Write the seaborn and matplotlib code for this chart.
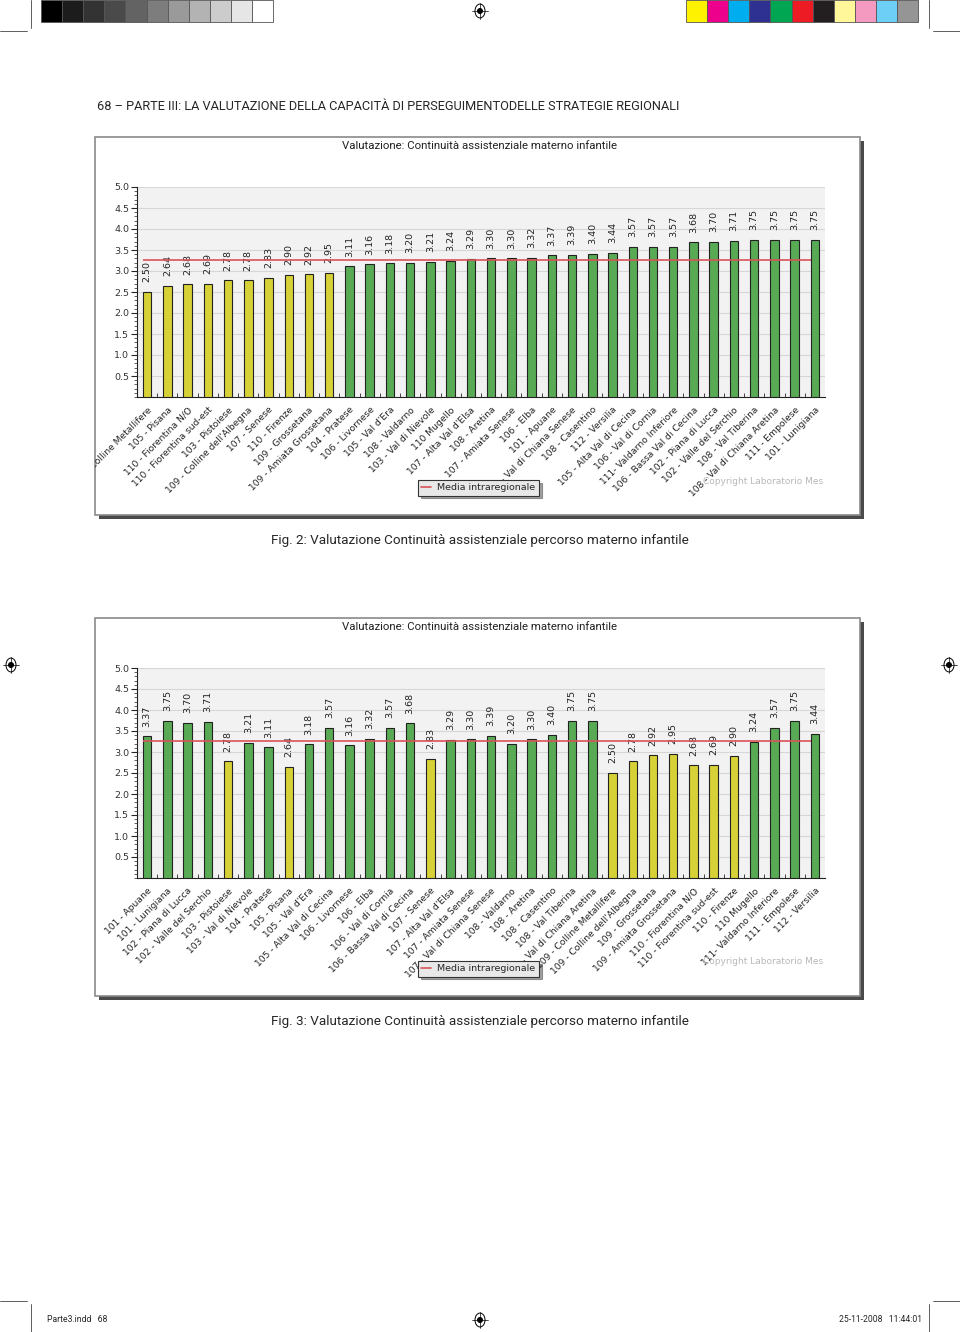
import matplotlib
matplotlib.use("Agg")
import matplotlib.pyplot as plt
import matplotlib.patches as mpatches
from matplotlib.lines import Line2D
from matplotlib.ticker import MultipleLocator
import pandas as pd
import seaborn as sns

sns.set_style("white")
plt.rcParams['font.family'] = ['DejaVu Sans']
NARROW = ['Roboto', 'DejaVu Sans']

# Fig. 2 - aree ordinate per punteggio
aree_fig2 = [
    "109 - Colline Metallifere", "105 - Pisana", "110 - Fiorentina N/O",
    "110 - Fiorentina sud-est", "103 - Pistoiese", "109 - Colline dell'Albegna",
    "107 - Senese", "110 - Firenze", "109 - Grossetana", "109 - Amiata Grossetana",
    "104 - Pratese", "106 - Livornese", "105 - Val d'Era", "108 - Valdarno",
    "103 - Val di Nievole", "110 Mugello", "107 - Alta Val d'Elsa", "108 - Aretina",
    "107 - Amiata Senese", "106 - Elba", "101 - Apuane", "107 - Val di Chiana Senese",
    "108 - Casentino", "112 - Versilia", "105 - Alta Val di Cecina",
    "106 - Val di Cornia", "111- Valdarno Inferiore", "106 - Bassa Val di Cecina",
    "102 - Piana di Lucca", "102 - Valle del Serchio", "108 - Val Tiberina",
    "108 - Val di Chiana Aretina", "111 - Empolese", "101 - Lunigiana",
]
valori_fig2 = [
    2.50, 2.64, 2.68, 2.69, 2.78, 2.78, 2.83, 2.90, 2.92, 2.95,
    3.11, 3.16, 3.18, 3.20, 3.21, 3.24, 3.29, 3.30, 3.30, 3.32,
    3.37, 3.39, 3.40, 3.44, 3.57, 3.57, 3.57, 3.68, 3.70, 3.71,
    3.75, 3.75, 3.75, 3.75,
]

# Fig. 3 - aree in ordine di codice
aree_fig3 = [
    "101 - Apuane", "101 - Lunigiana", "102 - Piana di Lucca",
    "102 - Valle del Serchio", "103 - Pistoiese", "103 - Val di Nievole",
    "104 - Pratese", "105 - Pisana", "105 - Val d'Era", "105 - Alta Val di Cecina",
    "106 - Livornese", "106 - Elba", "106 - Val di Cornia",
    "106 - Bassa Val di Cecina", "107 - Senese", "107 - Alta Val d'Elsa",
    "107 - Amiata Senese", "107 - Val di Chiana Senese", "108 - Valdarno",
    "108 - Aretina", "108 - Casentino", "108 - Val Tiberina",
    "108 - Val di Chiana Aretina", "109 - Colline Metallifere",
    "109 - Colline dell'Albegna", "109 - Grossetana", "109 - Amiata Grossetana",
    "110 - Fiorentina N/O", "110 - Fiorentina sud-est", "110 - Firenze",
    "110 Mugello", "111- Valdarno Inferiore", "111 - Empolese", "112 - Versilia",
]
valori_fig3 = [
    3.37, 3.75, 3.70, 3.71, 2.78, 3.21, 3.11, 2.64, 3.18, 3.57,
    3.16, 3.32, 3.57, 3.68, 2.83, 3.29, 3.30, 3.39, 3.20, 3.30,
    3.40, 3.75, 3.75, 2.50, 2.78, 2.92, 2.95, 2.68, 2.69, 2.90,
    3.24, 3.57, 3.75, 3.44,
]

media_intraregionale = 3.26
titolo_grafico = "Valutazione: Continuità assistenziale materno infantile"
didascalie = [
    "Fig. 2: Valutazione Continuità assistenziale percorso materno infantile",
    "Fig. 3: Valutazione Continuità assistenziale percorso materno infantile",
]
intestazione = "68 – PARTE III: LA VALUTAZIONE DELLA CAPACITÀ DI PERSEGUIMENTODELLE STRATEGIE REGIONALI"

W, H = 960, 1332
fig = plt.figure(figsize=(W / 100, H / 100), dpi=100)
fig.patch.set_facecolor("white")


def fx(x):
    return x / W


def fy(y):
    return 1 - y / H


def rect(x0, y0, x1, y1, **kw):
    p = mpatches.Rectangle((fx(x0), fy(y1)), fx(x1) - fx(x0), fy(y0) - fy(y1),
                           transform=fig.transFigure, **kw)
    fig.add_artist(p)
    return p


def line(xs, ys, **kw):
    fig.add_artist(Line2D([fx(x) for x in xs], [fy(y) for y in ys],
                          transform=fig.transFigure, **kw))


def registro(x, y):
    fig.add_artist(mpatches.Circle((fx(x), fy(y)), 5 / W, transform=fig.transFigure,
                                   facecolor="white", edgecolor="black", lw=0.7))
    fig.add_artist(mpatches.Ellipse((fx(x), fy(y)), 6 / W, 6 / H, transform=fig.transFigure,
                                    facecolor="black", edgecolor="none"))
    line([x - 8, x + 8], [y, y], color="black", lw=0.5)
    line([x, x], [y - 8, y + 8], color="black", lw=0.5)


# color bars at the top of the page
grigi = ["#000000", "#1c1c1c", "#333333", "#4a4a4a", "#636363", "#7d7d7d",
         "#9a9a9a", "#b3b3b3", "#cccccc", "#e6e6e6", "#ffffff"]
colori = ["#fff200", "#ec008c", "#00aeef", "#2e3192", "#00a651", "#ed1c24",
          "#231f20", "#fff799", "#f49ac1", "#6dcff6", "#959595"]
for i, c in enumerate(grigi):
    rect(41 + i * 21.1, 0, 41 + (i + 1) * 21.1, 22, facecolor=c, edgecolor="#555555", lw=0.6)
for i, c in enumerate(colori):
    rect(686 + i * 21.1, 0, 686 + (i + 1) * 21.1, 22, facecolor=c, edgecolor="#555555", lw=0.6)

# crop marks
for x_v, x_h in [(31, (0, 27)), (929, (933, 960))]:
    line([x_v, x_v], [0, 28], color="#444444", lw=0.6)
    line(list(x_h), [31, 31], color="#444444", lw=0.6)
    line([x_v, x_v], [1304, 1332], color="#444444", lw=0.6)
    line(list(x_h), [1301, 1301], color="#444444", lw=0.6)

for (x, y) in [(480, 11), (11, 665), (949, 665), (480, 1320)]:
    registro(x, y)

fig.text(fx(97), fy(106), intestazione, family=NARROW, fontsize=9.2, va="center", ha="left")
fig.text(fx(47), fy(1320), "Parte3.indd   68", family=NARROW, fontsize=6.2, va="center")
fig.text(fx(922), fy(1320), "25-11-2008   11:44:01", family=NARROW, fontsize=6.2,
         va="center", ha="right")


def grafico(aree, valori, top, didascalia):
    # frame with shadow, behind the axes
    rect(99, top + 4, 864, top + 382, facecolor="#4a4a4a", edgecolor="none", zorder=-3)
    cornice = rect(95, top, 860, top + 378, facecolor="white", edgecolor="#8a8a8a",
                   lw=1.2, zorder=-2)

    fig.text(fx(480), fy(top + 9), titolo_grafico, family=NARROW, fontsize=8.2,
             ha="center", va="center", color="#222222")

    y5 = top + 50
    y0 = top + 260
    ax = fig.add_axes([fx(137), fy(y0), fx(825) - fx(137), fy(y5) - fy(y0)])
    ax.set_facecolor("#f2f2f2")

    df = pd.DataFrame({"area": aree, "valore": valori})
    df["fascia"] = ["bassa" if v < 3.0 else "alta" for v in df["valore"]]
    sns.barplot(data=df, x="area", y="valore", hue="fascia",
                palette={"bassa": "#f2ea1d", "alta": "#4cb847"},
                dodge=False, width=0.42, edgecolor="#222222", linewidth=0.8,
                legend=False, ax=ax, zorder=3)

    for i, v in enumerate(valori):
        ax.annotate(f"{v:.2f}", (i, v), xytext=(0, 7), textcoords="offset points",
                    rotation=90, ha="center", va="bottom", fontsize=6.8,
                    color="#222222", zorder=4)

    ax.hlines(media_intraregionale, -0.2, len(valori) - 1.2,
              color="#d9535a", lw=1.2, zorder=5)

    ax.set_xlim(-0.5, len(valori) - 0.5)
    ax.set_ylim(0, 5.0)
    ax.set_yticks([0.5, 1.0, 1.5, 2.0, 2.5, 3.0, 3.5, 4.0, 4.5, 5.0])
    ax.yaxis.set_minor_locator(MultipleLocator(0.1))
    ax.grid(axis="y", color="#d6d6d6", lw=0.8, zorder=0)
    ax.set_axisbelow(True)
    for s in ["top", "right"]:
        ax.spines[s].set_visible(False)
    ax.spines["left"].set_color("#222222")
    ax.spines["bottom"].set_color("#222222")
    ax.tick_params(axis="y", which="major", direction="out", length=4, width=0.8,
                   labelsize=6.8, labelcolor="#333333", left=True, pad=1.5)
    ax.tick_params(axis="y", which="minor", direction="out", length=2, width=0.5, left=True)
    ax.set_xticks(range(len(aree)))
    ax.set_xticklabels(aree, rotation=45, ha="right", rotation_mode="anchor",
                       fontsize=6.6, color="#222222")
    ax.tick_params(axis="x", which="major", length=0, pad=6)
    ax.set_xticks([i + 0.5 for i in range(len(aree) - 1)], minor=True)
    ax.tick_params(axis="x", which="minor", direction="in", length=3, width=0.6, bottom=True)
    ax.set_xlabel("")
    ax.set_ylabel("")
    for lbl in ax.get_xticklabels():
        lbl.set_clip_path(cornice)

    leg = ax.legend([Line2D([0], [0], color="#d9535a", lw=1.2)], ["Media intraregionale"],
                    loc="upper left", bbox_to_anchor=(fx(418), fy(top + 343)),
                    bbox_transform=fig.transFigure, fancybox=False, shadow=True,
                    facecolor="#e8e8e8", edgecolor="#333333", framealpha=1,
                    fontsize=6.8, handlelength=1.0, handletextpad=0.7,
                    borderpad=0.35, borderaxespad=0)
    leg.get_frame().set_linewidth(0.8)

    fig.text(fx(703), fy(top + 344), "Copyright Laboratorio Mes", fontsize=6.5,
             color="#b8b8b8", ha="left", va="center")

    fig.text(fx(480), fy(top + 403), didascalia, family=NARROW, fontsize=9.7,
             ha="center", va="center")


grafico(aree_fig2, valori_fig2, 137, didascalie[0])
grafico(aree_fig3, valori_fig3, 618, didascalie[1])

fig.savefig("out.png", dpi=100)
